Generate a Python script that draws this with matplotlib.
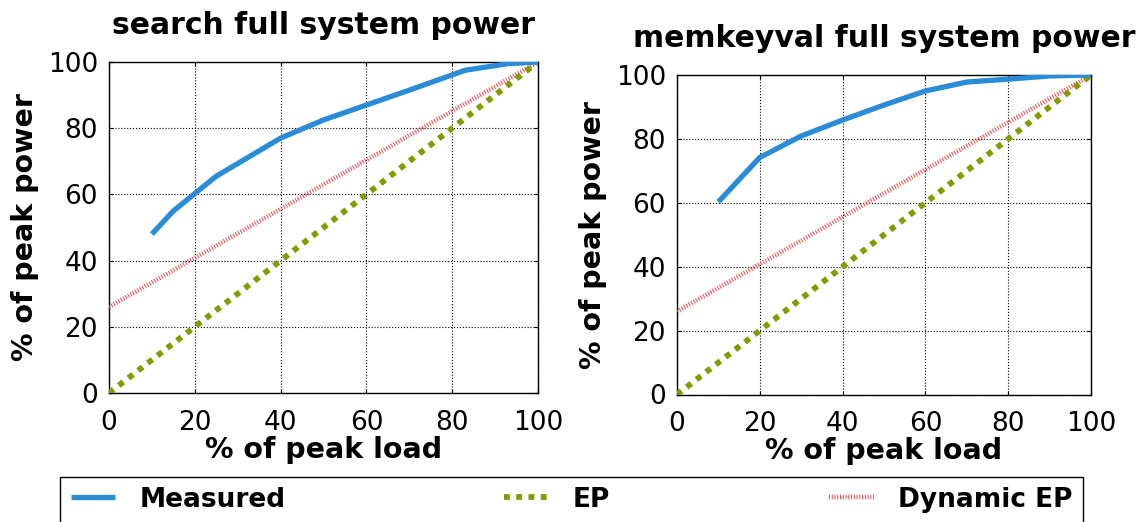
import matplotlib
matplotlib.use('Agg')
import matplotlib.pyplot as plt
from matplotlib.patches import Rectangle

# measured full-system power (% of peak) vs load (% of peak)
search_load = [10, 15, 25, 40, 50, 60, 70, 83, 93, 100]
search_power = [48, 55, 65.5, 77, 82.5, 87, 91.5, 97.5, 99.5, 100]

mkv_load = [10, 20, 30, 40, 50, 60, 70, 80, 90, 100]
mkv_power = [60.3, 74.2, 80.9, 85.9, 90.6, 95, 97.8, 98.7, 99.7, 100]

# energy proportional reference lines
ep_load = [0, 100]
ep_power = [0, 100]
dyn_ep_power = [26, 100]

titles = ['search full system power', 'memkeyval full system power']
ticks = [0, 20, 40, 60, 80, 100]

blue = '#2a8bd6'
olive = '#869a00'
red = '#e8474a'

fig = plt.figure(figsize=(11.44, 5.22), dpi=100)
W, H = 1144, 522
ax1 = fig.add_axes([109 / W, 1 - 393 / H, 429 / W, 331 / H])
ax2 = fig.add_axes([677 / W, 1 - 394.5 / H, 414 / W, 319.5 / H])


def draw(ax, load, power, title):
    ax.plot(ep_load, dyn_ep_power, color=red, lw=3.2, dashes=(0.22, 0.4),
            label='Dynamic EP', zorder=3)
    ax.plot(ep_load, ep_power, color=olive, lw=4.2, dashes=(1, 1.1),
            label='EP', zorder=3)
    ax.plot(load, power, color=blue, lw=3.8, solid_capstyle='butt',
            label='Measured', zorder=4)
    ax.set_xlim(0, 100)
    ax.set_ylim(0, 100)
    ax.set_xticks(ticks)
    ax.set_yticks(ticks)
    ax.grid(True, color='black', linestyle=':', linewidth=0.8)
    ax.tick_params(labelsize=19, direction='in', length=3, top=True, right=True,
                   pad=8)
    ax.tick_params(axis='x', pad=12)
    for s in ax.spines.values():
        s.set_linewidth(1.0)
    ax.set_title(title, fontsize=21.5, fontweight='bold', pad=20)
    ax.set_xlabel('% of peak load', fontsize=20.5, fontweight='bold', labelpad=0)
    ax.set_ylabel('% of peak power', fontsize=20.5, fontweight='bold', labelpad=6)


draw(ax1, search_load, search_power, titles[0])
draw(ax2, mkv_load, mkv_power, titles[1])

handles, labels = ax1.get_legend_handles_labels()
order = [2, 1, 0]
leg = fig.legend([handles[i] for i in order], [labels[i] for i in order],
                 loc='upper left', ncol=3, mode='expand', frameon=False,
                 bbox_to_anchor=(60 / W, 0, 1023 / W, 1 - 476 / H),
                 prop={'size': 19, 'weight': 'bold'},
                 handlelength=1.7, handletextpad=0.9, borderaxespad=0)

fig.patches.append(Rectangle((60 / W, -0.05), 1023 / W, 0.05 + 1 - 477 / H,
                             transform=fig.transFigure, fill=False,
                             edgecolor='black', linewidth=1.0))

fig.savefig('out.png', dpi=100)
